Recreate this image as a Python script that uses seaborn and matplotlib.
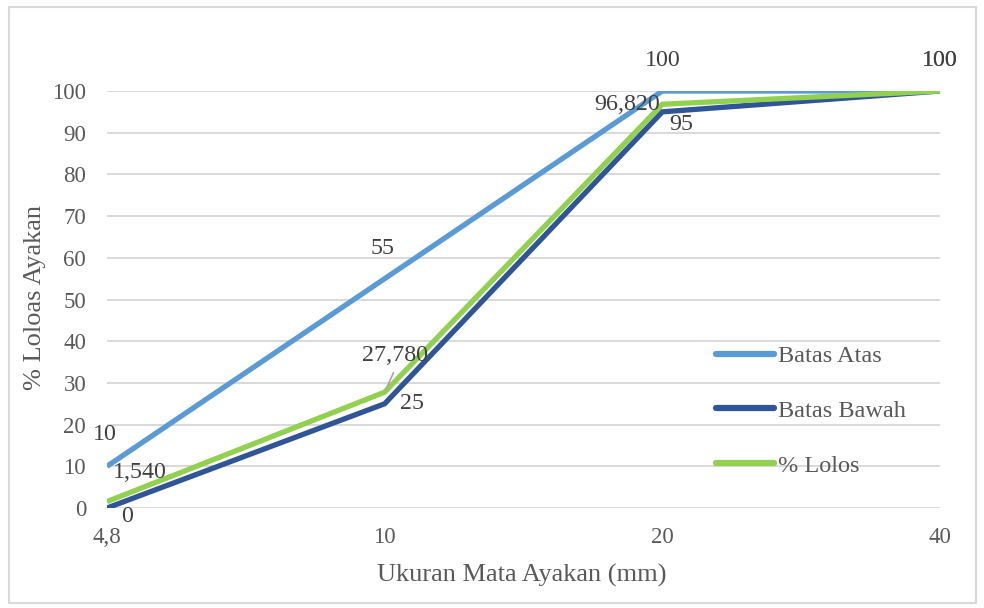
import matplotlib
matplotlib.use("Agg")
import matplotlib.pyplot as plt
import seaborn as sns
import pandas as pd
from matplotlib.patches import Rectangle

categories = ["4,8", "10", "20", "40"]
batas_atas = [10, 55, 100, 100]
batas_bawah = [0, 25, 95, 100]
lolos = [1.540, 27.780, 96.820, 100]
series_names = ["Batas Atas", "Batas Bawah", "% Lolos"]
label_atas = ["10", "55", "100", "100"]
label_bawah = ["0", "25", "95", ""]
label_lolos = ["1,540", "27,780", "96,820", "100"]
y_ticks = list(range(0, 101, 10))

colors = {"Batas Atas": "#5B9BD5", "Batas Bawah": "#2F5597", "% Lolos": "#92D050"}

rows = []
for name, vals in zip(series_names, [batas_atas, batas_bawah, lolos]):
    for c, v in zip(categories, vals):
        rows.append({"Ukuran": c, "Nilai": v, "Seri": name})
df = pd.DataFrame(rows)

sns.set_theme(style="white")
plt.rcParams["font.family"] = ["Liberation Serif", "DejaVu Serif"]

fig = plt.figure(figsize=(9.84, 6.08), dpi=100)
ax = fig.add_axes([107/984, 1-508/608, (940-107)/984, (508-91)/608])

sns.lineplot(data=df, x="Ukuran", y="Nilai", hue="Seri", palette=colors,
             sort=False, linewidth=3.8, ax=ax, legend=False,
             solid_capstyle="butt", solid_joinstyle="miter")

ax.set_xlim(0, len(categories) - 1)
ax.set_ylim(0, 100)
ax.set_yticks(y_ticks)
ax.yaxis.grid(True, color="#D9D9D9", linewidth=1.4)
ax.set_axisbelow(True)
for s in ax.spines.values():
    s.set_visible(False)
ax.tick_params(axis="both", length=0, labelsize=16.5, labelcolor="#595959")
ax.tick_params(axis="y", pad=15)
ax.tick_params(axis="x", pad=14)
ax.set_xlabel("Ukuran Mata Ayakan (mm)", fontsize=19, color="#595959")
ax.set_ylabel("% Loloas Ayakan", fontsize=19, color="#595959")
ax.xaxis.set_label_coords((522 - 107) / (940 - 107), -(575 - 508) / (508 - 91))
ax.yaxis.set_label_coords(-(107 - 35) / (940 - 107), (508 - 297) / (508 - 91))
ax.xaxis.label.set_va("center")
ax.yaxis.label.set_va("center")

txt_kw = dict(fontsize=17.3, color="#404040", ha="center", va="center",
              textcoords="offset pixels", annotation_clip=False)
off_atas = [(-2, 32), (-2, 30), (0, 31), (0, 31)]
off_bawah = [(20, -9), (27, 0), (19, -13), (0, 0)]
off_lolos = [(33, 29), (10, 37), (-35, 0), (0, 31)]
for i, c in enumerate(categories):
    ax.annotate(label_atas[i], (i, batas_atas[i]), xytext=off_atas[i], **txt_kw)
    if label_bawah[i]:
        ax.annotate(label_bawah[i], (i, batas_bawah[i]), xytext=off_bawah[i], **txt_kw)
    ax.annotate(label_lolos[i], (i, lolos[i]), xytext=off_lolos[i], **txt_kw)

# leader line for 27,780
ax.annotate("", xy=(1, lolos[1]), xytext=(10, 22), textcoords="offset pixels",
            arrowprops=dict(arrowstyle="-", color="#A6A6A6", lw=1.2), annotation_clip=False)

handles = [plt.Line2D([], [], color=colors[n], lw=4.5, solid_capstyle="round") for n in series_names]
leg = fig.legend(handles, series_names, loc="upper left",
                 bbox_to_anchor=(716/984, 1-345/608), frameon=False,
                 fontsize=17.5, handlelength=2.4, handletextpad=0.15,
                 labelspacing=1.35, borderpad=0, borderaxespad=0)
for t in leg.get_texts():
    t.set_color("#595959")

fig.patches.append(Rectangle((9/984, 1-603/608), (976-9)/984, (603-7)/608,
                             transform=fig.transFigure, fill=False,
                             edgecolor="#D9D9D9", linewidth=1.5))

fig.savefig("out.png", dpi=100)
